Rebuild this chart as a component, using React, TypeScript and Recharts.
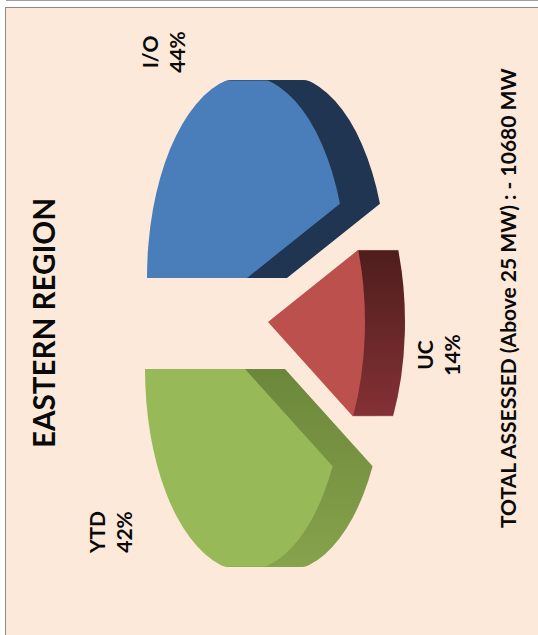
import { Pie, PieChart, Sector } from "recharts"

const sliceNames = ["I/O", "UC", "YTD"]
const sliceShares = [44, 14, 42]
const faceColors = ["#4a7ebb", "#bc504c", "#98b958"]
const sideNearColors = ["#1f3552", "#843135", "#88a34c"]
const sideFarColors = ["#1f3552", "#4f1d1c", "#6b873a"]

const regionTitle = "EASTERN REGION"
const footerText = "TOTAL ASSESSED (Above 25 MW) : - 10680 MW"

const chartData = sliceNames.map((name, i) => ({ name, value: sliceShares[i] }))

// The slide is laid out landscape, then turned a quarter turn counter-clockwise
const SLIDE_W = 635
const SLIDE_H = 538
const FONT = "Lato, sans-serif"

const PIE_CX = 312
const PIE_CY = 250
const RADIUS = 202
const TILT = 0.495
const DEPTH = 40
// the outer ends of the ellipse are cut flat
const FLAT_AT = 197.5

// how far each slice is pulled away from the pie centre, and its size
const explode = [
  { x: 45, y: -3, size: 1 },
  { x: 1, y: 18, size: 0.97 },
  { x: -46, y: -5, size: 1 }
]

// label position, relative to the pie centre
const labelOffsets = [
  { x: 271, y: -92 },
  { x: -32, y: 183 },
  { x: -209, y: -145 }
]

function ExplodedSlice(props: any) {
  const { cx, cy, outerRadius, startAngle, endAngle, index } = props
  const shift = explode[index]
  const radius = outerRadius * shift.size
  const layers = []
  for (let i = DEPTH; i > 0; i--) layers.push(i)

  return (
    <g transform={`translate(${cx + shift.x} ${cy + shift.y}) scale(1 ${TILT})`}>
      <defs>
        <linearGradient id={`side-${index}`} x1="0" y1="0" x2="1" y2="0">
          <stop offset="0%" stopColor={sideNearColors[index]} />
          <stop offset="100%" stopColor={sideFarColors[index]} />
        </linearGradient>
        <clipPath id={`flat-${index}`}>
          <rect x={-FLAT_AT} y={-400} width={FLAT_AT * 2} height={800} />
        </clipPath>
      </defs>
      <g clipPath={`url(#flat-${index})`}>
        {layers.map((i) => (
          <Sector
            key={i}
            cx={0}
            cy={i / TILT}
            innerRadius={0}
            outerRadius={radius}
            startAngle={startAngle}
            endAngle={endAngle}
            fill={`url(#side-${index})`}
            stroke="none"
          />
        ))}
        <Sector
          cx={0}
          cy={0}
          innerRadius={0}
          outerRadius={radius}
          startAngle={startAngle}
          endAngle={endAngle}
          fill={faceColors[index]}
          stroke="none"
        />
      </g>
    </g>
  )
}

function SliceLabel(props: any) {
  const { cx, cy, index, name, value } = props
  const pos = labelOffsets[index]
  return (
    <text
      x={cx + pos.x}
      y={cy + pos.y}
      textAnchor="middle"
      fontFamily={FONT}
      fontWeight={700}
      fontSize={21}
      fill="#0a0a0a"
    >
      <tspan x={cx + pos.x} dy={0}>{name}</tspan>
      <tspan x={cx + pos.x} dy={27}>{`${value}%`}</tspan>
    </text>
  )
}

export default function App() {
  return (
    <div style={{ position: "absolute", left: 0, top: 0, width: 538, height: 635, background: "#fff", overflow: "hidden" }}>
      <div style={{ position: "absolute", left: 6, top: 0, right: 0, height: 1, background: "#a0a0a0" }} />
      <div
        style={{
          position: "absolute",
          left: 0,
          top: 0,
          width: SLIDE_W,
          height: SLIDE_H,
          transformOrigin: "0 0",
          transform: `translate(0px, ${SLIDE_W}px) rotate(-90deg)`
        }}
      >
        <div
          style={{
            position: "absolute",
            left: 0,
            top: 5,
            width: 627,
            height: 532,
            background: "#fde9da",
            borderTop: "1px solid #8c8c8c",
            borderRight: "1px solid #8c8c8c"
          }}
        />
        <svg width={SLIDE_W} height={SLIDE_H} style={{ position: "absolute", left: 0, top: 0 }}>
          <text
            x={187}
            y={55}
            fontFamily={FONT}
            fontWeight={700}
            fontSize={31}
            fill="#0a0a0a"
            textLength={250}
            lengthAdjust="spacingAndGlyphs"
          >
            {regionTitle}
          </text>
          <text x={107} y={516} fontFamily={FONT} fontWeight={700} fontSize={21} fill="#0a0a0a">
            {footerText}
          </text>
        </svg>
        <div style={{ position: "absolute", left: 0, top: 0 }}>
          <PieChart width={SLIDE_W} height={SLIDE_H} margin={{ top: 0, right: 0, bottom: 0, left: 0 }}>
            <Pie
              data={chartData}
              dataKey="value"
              nameKey="name"
              cx={PIE_CX}
              cy={PIE_CY}
              innerRadius={0}
              outerRadius={RADIUS}
              startAngle={90}
              endAngle={-270}
              stroke="none"
              isAnimationActive={false}
              shape={ExplodedSlice}
              label={SliceLabel}
              labelLine={false}
            />
          </PieChart>
        </div>
      </div>
    </div>
  )
}
